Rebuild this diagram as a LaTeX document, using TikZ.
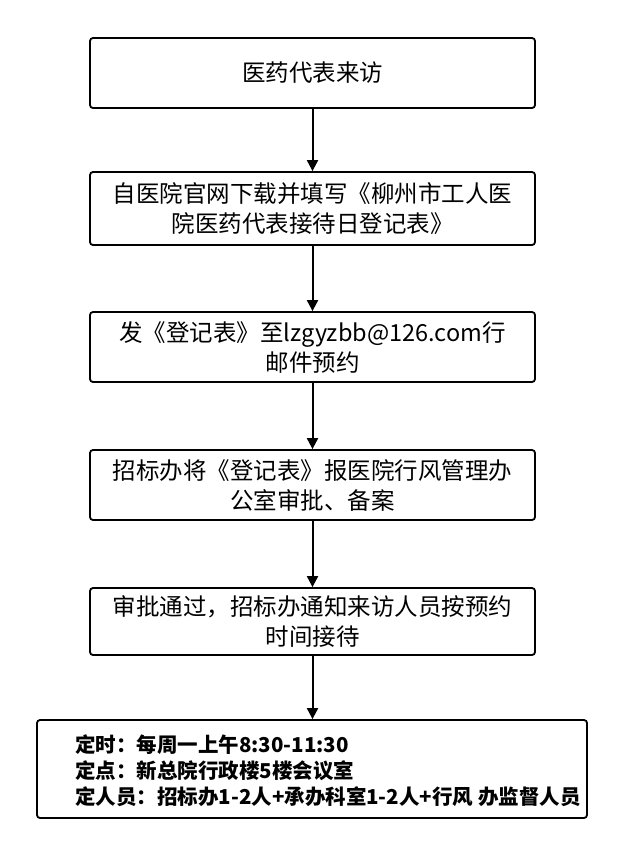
\documentclass[tikz,border=0pt]{standalone}
\usepackage{fontspec}
\setmainfont{Noto Sans CJK SC}
\usetikzlibrary{arrows.meta}
\begin{document}
\begin{tikzpicture}[x=1pt,y=-1pt,
  box/.style={draw,line width=1.8pt,rounded corners=3pt,align=center,font=\fontsize{23.5}{30}\selectfont,inner sep=0pt},
  arr/.style={-{Triangle[length=11pt,width=11pt]},line width=2pt}]
\useasboundingbox[fill=white] (0,0) rectangle (625,857);
\node[box,minimum width=445pt,minimum height=70pt] (a) at (312.5,73) {医药代表来访};
\node[box,minimum width=445pt,minimum height=73pt] (b) at (312.5,208.5) {自医院官网下载并填写《柳州市工人医\\院医药代表接待日登记表》};
\node[box,minimum width=445pt,minimum height=70pt] (c) at (312.5,347) {发《登记表》至lzgyzbb@126.com行\\邮件预约};
\node[box,minimum width=445pt,minimum height=70pt] (d) at (312.5,485) {招标办将《登记表》报医院行风管理办\\公室审批、备案};
\node[box,minimum width=445pt,minimum height=67pt] (e) at (312.5,621.5) {审批通过，招标办通知来访人员按预约\\时间接待};
\node[box,minimum width=550pt,minimum height=98pt] (f) at (312,769) {};
\node[anchor=west,align=left,inner sep=0pt,font=\fontsize{20.5}{26}\selectfont\bfseries] (ft) at (75,771) {定时：每周一上午8:30-11:30\\定点：新总院行政楼5楼会议室\\定人员：招标办1-2人+承办科室1-2人+行风 办监督人员};
\draw[arr] (a) -- (b);
\draw[arr] (b) -- (c);
\draw[arr] (c) -- (d);
\draw[arr] (d) -- (e);
\draw[arr] (e) -- (e|-f.north);
\end{tikzpicture}
\end{document}
